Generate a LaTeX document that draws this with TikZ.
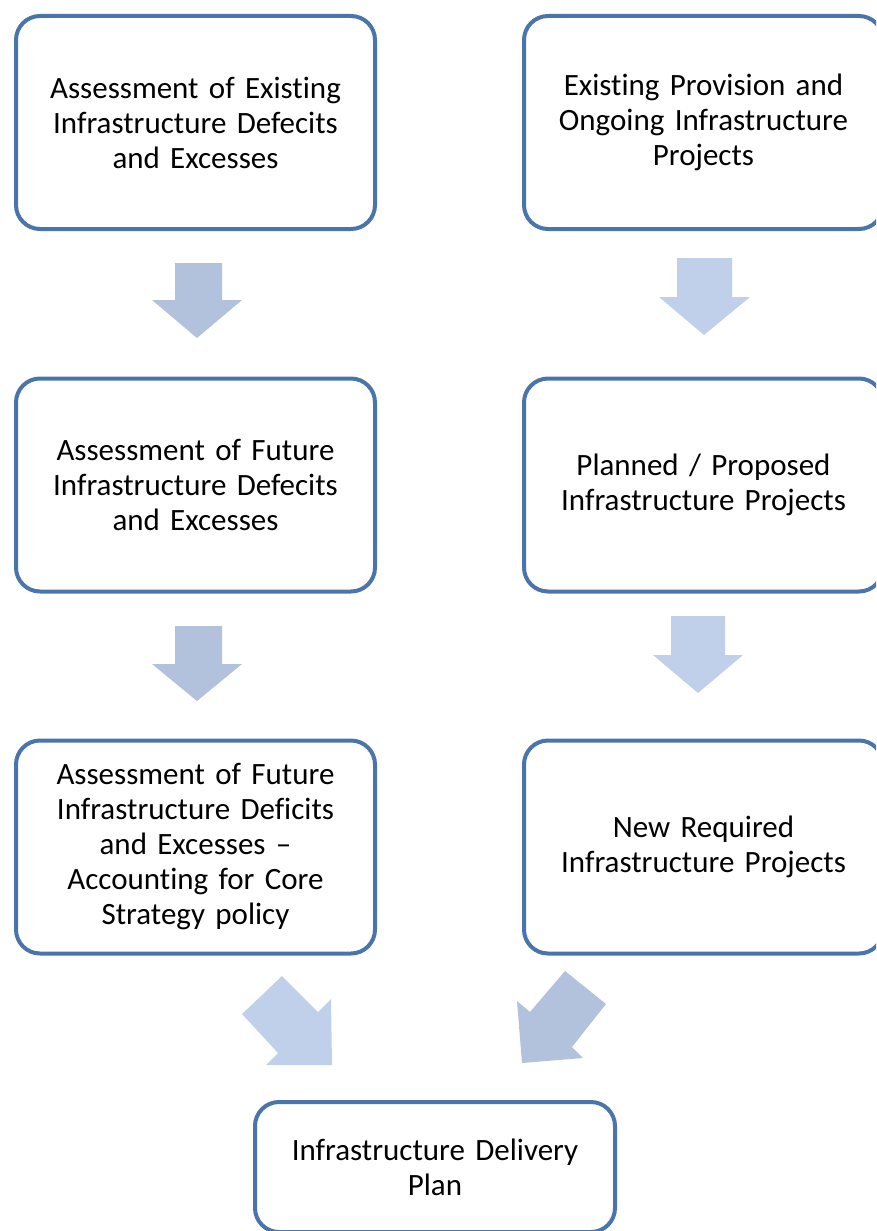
\documentclass[tikz,border=0pt]{standalone}
\usepackage{fontspec}
\setmainfont{Carlito}[Ligatures=NoCommon]
\usetikzlibrary{positioning}
\definecolor{boxblue}{HTML}{4A75AA}
\definecolor{arrowgrey}{HTML}{B2C2DC}
\definecolor{arrowlight}{HTML}{C0D0EA}

\begin{document}
\begin{tikzpicture}[
  x=1pt, y=-1pt,
  font=\fontsize{31}{35}\selectfont,
  stage/.style={draw=boxblue, line width=4pt, rounded corners=24pt, fill=white,
    minimum width=359pt, minimum height=213pt, text width=340pt, align=center, inner sep=0pt}
]
\useasboundingbox (0,0) rectangle (876,1231);
\clip (0,0) rectangle (876,1231);

% left column
\node[stage] (exdef)  at (195.5,122.5) {Assessment of Existing\\Infrastructure Defecits\\and Excesses};
\node[stage] (futdef) at (195.5,485)   {Assessment of Future\\Infrastructure Defecits\\and Excesses};
\node[stage] (core)   at (195.5,847)   {Assessment of Future\\Infrastructure Deficits\\and Excesses --\\Accounting for Core\\Strategy policy};

% right column
\node[stage] (ongoing) at (703.5,122.5) {Existing Provision and\\Ongoing Infrastructure\\Projects};
\node[stage] (planned) at (703.5,485)   {Planned / Proposed\\Infrastructure Projects};
\node[stage] (newreq)  at (703.5,847)   {New Required\\Infrastructure Projects};

% result
\node[stage, minimum width=360pt, minimum height=130pt] (idp) at (435,1167) {Infrastructure Delivery\\Plan};

% block arrows
\fill[arrowgrey]  (175,263) -- (222,263) -- (222,300) -- (242,300) -- (197,338) -- (152,300) -- (175,300) -- cycle;
\fill[arrowgrey]  (175,626) -- (222,626) -- (222,664) -- (242,664) -- (197,701) -- (152,664) -- (175,664) -- cycle;
\fill[arrowlight] (677,258) -- (732,258) -- (732,297) -- (750,297) -- (704,335) -- (659,297) -- (677,297) -- cycle;
\fill[arrowlight] (671,616) -- (725,616) -- (725,655) -- (743,655) -- (698,693) -- (653,655) -- (671,655) -- cycle;
\fill[arrowlight] (242,1014) -- (282,976) -- (318,1012) -- (331,999) -- (332,1065) -- (266,1065) -- (278,1053) -- cycle;
\fill[arrowgrey]  (565,971) -- (606,1004) -- (572,1047) -- (583,1058) -- (522,1063) -- (517,1001) -- (530,1012) -- cycle;
\end{tikzpicture}
\end{document}
